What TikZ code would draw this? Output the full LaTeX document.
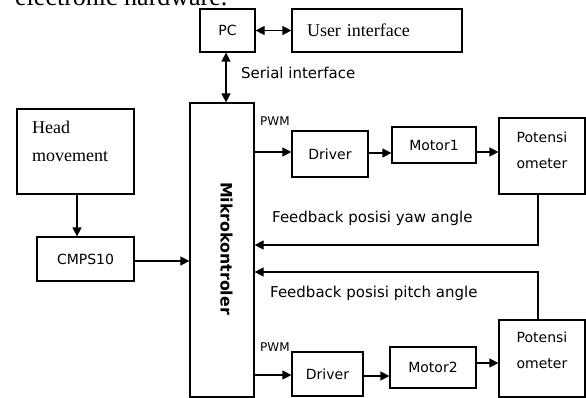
\documentclass[tikz,border=0pt]{standalone}
\usepackage{fontspec}
\setmainfont{Liberation Serif}
\newfontfamily\dvsans{DejaVu Sans}
\usetikzlibrary{arrows.meta}

\tikzset{
  box/.style={draw, line width=1.2pt, inner sep=0pt, fill=white},
  boxtext/.style={font=\dvsans\fontsize{14pt}{26pt}\selectfont, inner sep=0pt, align=center},
  serifbox/.style={font=\fontsize{18pt}{28pt}\selectfont, inner sep=0pt},
  lbl/.style={font=\dvsans\fontsize{15pt}{18pt}\selectfont, inner sep=0pt},
  pwm/.style={font=\dvsans\fontsize{12pt}{14pt}\selectfont, inner sep=0pt},
  arr/.style={line width=1.2pt, -{Triangle[length=9pt,width=9pt]}},
  biarr/.style={line width=1.2pt, {Triangle[length=9pt,width=9pt]}-{Triangle[length=9pt,width=9pt]}},
}

\begin{document}
\begin{tikzpicture}[x=1pt, y=-1pt]
  \useasboundingbox (0,0) rectangle (586,398);
  \clip (0,0) rectangle (586,398);

  % running text above the figure
  \node[anchor=base west, inner sep=0pt, font=\fontsize{26pt}{30pt}\selectfont] (caption) at (15,6) {electronic hardware.};

  % PC and user interface
  \node[box, minimum width=55pt, minimum height=43pt, boxtext] (pc) at (227.5,30.5) {PC};
  \node[box, serifbox, minimum height=43pt, text width=140pt, inner xsep=15pt, align=left] (ui) at (377,30.5) {User interface};
  \draw[biarr] (pc.east) -- (ui.west);

  % microcontroller
  \node[box, minimum width=64pt, minimum height=294pt] (mk) at (222,250) {};
  \node[rotate=-90, inner sep=0pt, font=\dvsans\bfseries\fontsize{15.8pt}{18pt}\selectfont] (mkt) at (226.5,248.5) {Mikrokontroler};

  \draw[biarr] ([xshift=-1.5pt]pc.south) -- ([xshift=-1.5pt]pc.south |- mk.north);
  \node[lbl, anchor=west] (serial) at (241,73) {Serial interface};

  % head movement sensor
  \node[box, minimum width=117pt, minimum height=85pt] (hm) at (75.5,151.5) {};
  \node[serifbox, anchor=north west, align=left] (hmt) at (32,120.5) {Head\\movement};
  \node[box, minimum width=97pt, minimum height=44pt, boxtext] (cmps) at (85.5,259) {CMPS10};
  \draw[arr] ([xshift=1.5pt]hm.south) -- ([xshift=1.5pt]hm.south |- cmps.north);
  \draw[arr] ([yshift=-2pt]cmps.east) -- ([yshift=-2pt]cmps.east -| mk.west);

  % yaw axis chain
  \node[box, minimum width=76pt, minimum height=46pt, boxtext] (d1) at (330,154) {Driver};
  \node[box, minimum width=84pt, minimum height=36pt, boxtext] (m1) at (434,145) {Motor1};
  \node[box, minimum width=86pt, minimum height=76pt] (p1) at (542,156) {};
  \node[boxtext] (p1t) at ([yshift=6pt]p1.center) {Potensi\\ometer};
  \node[pwm, anchor=west] (pwm1) at (260,121) {PWM};
  \draw[arr] ([yshift=2pt]d1.west -| mk.east) -- ([yshift=2pt]d1.west);
  \draw[arr] ([yshift=1pt]d1.east) -- ([yshift=1pt]d1.east -| m1.west);
  \draw[arr] ([yshift=-7pt]m1.east) -- ([yshift=-7pt]m1.east -| p1.west);

  % pitch axis chain
  \node[box, minimum width=71pt, minimum height=44pt, boxtext] (d2) at (327.5,374) {Driver};
  \node[box, minimum width=86pt, minimum height=41pt, boxtext] (m2) at (433,367.5) {Motor2};
  \node[box, minimum width=86pt, minimum height=77pt] (p2) at (542,358.5) {};
  \node[boxtext] (p2t) at ([yshift=8pt]p2.center) {Potensi\\ometer};
  \node[pwm, anchor=west] (pwm2) at (260,347) {PWM};
  \draw[arr] ([yshift=-1pt]d2.west -| mk.east) -- ([yshift=-1pt]d2.west);
  \draw[arr] ([yshift=-2pt]d2.east) -- ([yshift=-2pt]d2.east -| m2.west);
  \draw[arr] ([yshift=4.5pt]m2.east) -- ([yshift=4.5pt]m2.east -| p2.west);

  % position feedback loops
  \coordinate (yawc) at (538,245);
  \coordinate (pitc) at (538,272);
  \draw[arr] (p1.south -| yawc) -- (yawc) -- (yawc -| mk.east);
  \draw[arr] (p2.north -| pitc) -- (pitc) -- (pitc -| mk.east);
  \node[lbl, anchor=west] (fyaw) at (272,218) {Feedback posisi yaw angle};
  \node[lbl, anchor=west] (fpitch) at (270,293) {Feedback posisi pitch angle};
\end{tikzpicture}
\end{document}
